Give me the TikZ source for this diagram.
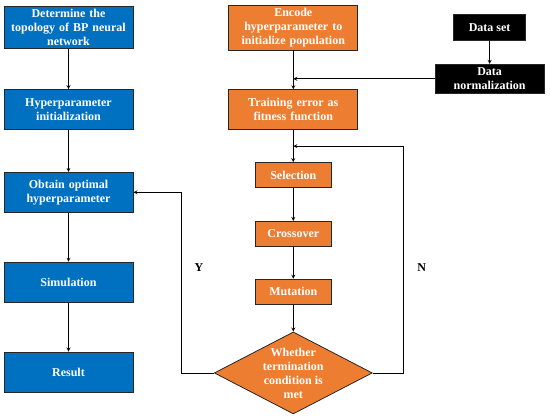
\documentclass[tikz,border=0pt]{standalone}
\usepackage{fontspec}
\setmainfont{Liberation Serif}
\usetikzlibrary{shapes,arrows,positioning,calc}
\definecolor{bpblue}{RGB}{0,112,192}
\definecolor{gaorange}{RGB}{237,125,49}

\begin{document}
\begin{tikzpicture}[
    x=1pt, y=1pt,
    block/.style={rectangle, draw=black!85, line width=0.8pt, text=white, font=\fontsize{12}{14}\selectfont\bfseries, text centered},
    bpblock/.style={block, fill=bpblue, text width=123pt, inner sep=3pt, minimum height=40pt},
    gablock/.style={block, fill=gaorange, text width=123pt, inner sep=3pt, minimum height=40pt},
    gasmall/.style={block, fill=gaorange, minimum width=76pt, minimum height=25pt, inner sep=2pt},
    datablock/.style={block, fill=black, inner sep=1.5pt},
    decision/.style={diamond, draw=black!85, line width=0.8pt, fill=gaorange, text=white, font=\fontsize{12}{14}\selectfont\bfseries, align=center, aspect=1.93, minimum width=158pt, minimum height=82pt, inner sep=0pt},
    arrow/.style={->, >=stealth, line width=0.8pt}
]
\useasboundingbox (0,0) rectangle (550,-417);

\node[bpblock] (bp1) at (68.5,-27.5) {Determine the\\topology of BP neural\\network};
\node[bpblock, below=40pt of bp1] (bp2) {Hyperparameter\\initialization};
\node[bpblock, below=42pt of bp2] (bp3) {Obtain optimal\\hyperparameter};
\node[bpblock, below=49pt of bp3] (bp4) {Simulation};
\node[bpblock, below=49pt of bp4] (bp5) {Result};

\node[gablock, right=95pt of bp1] (ga1) {Encode\\hyperparameter to\\initialize population};
\node[gablock, below=39pt of ga1] (ga2) {Training error as\\fitness function};
\node[gasmall, below=32pt of ga2] (ga3) {Selection};
\node[gasmall, below=33pt of ga3] (ga4) {Crossover};
\node[gasmall, below=32pt of ga4] (ga5) {Mutation};
\node[decision, below=27pt of ga5] (ga6) {Whether\\termination\\condition is\\met};

\node[datablock, minimum width=72pt, minimum height=26pt, right=95pt of ga1] (d1) {Data set};
\node[datablock, text width=106pt, text centered, minimum height=29pt, below=23pt of d1] (d2) {Data\\normalization};

\coordinate (j1) at (d2.west -| ga1.south);
\coordinate (j2) at ($(ga2.south)!0.5!(ga3.north)$);

\draw[arrow] (bp1) -- (bp2);
\draw[arrow] (bp2) -- (bp3);
\draw[arrow] (bp3) -- (bp4);
\draw[arrow] (bp4) -- (bp5);

\draw[arrow] (ga1) -- (ga2);
\draw[arrow] (d1) -- (d2);
\draw[arrow] (d2.west) -- (j1);
\draw[arrow] (ga2) -- (ga3);
\draw[arrow] (ga3) -- (ga4);
\draw[arrow] (ga4) -- (ga5);
\draw[arrow] (ga5) -- (ga6);

% feedback loops
\draw[arrow] (ga6.east) -- ++(31,0) |- (j2);
\draw[arrow] (ga6.west) -- ++(-32,0) |- (bp3.east);

\node[font=\fontsize{12}{14}\selectfont\bfseries] (yes) at ($(ga6.west)+(-15,105)$) {Y};
\node[font=\fontsize{12}{14}\selectfont\bfseries] (no) at ($(ga6.east)+(49,105)$) {N};
\end{tikzpicture}
\end{document}
